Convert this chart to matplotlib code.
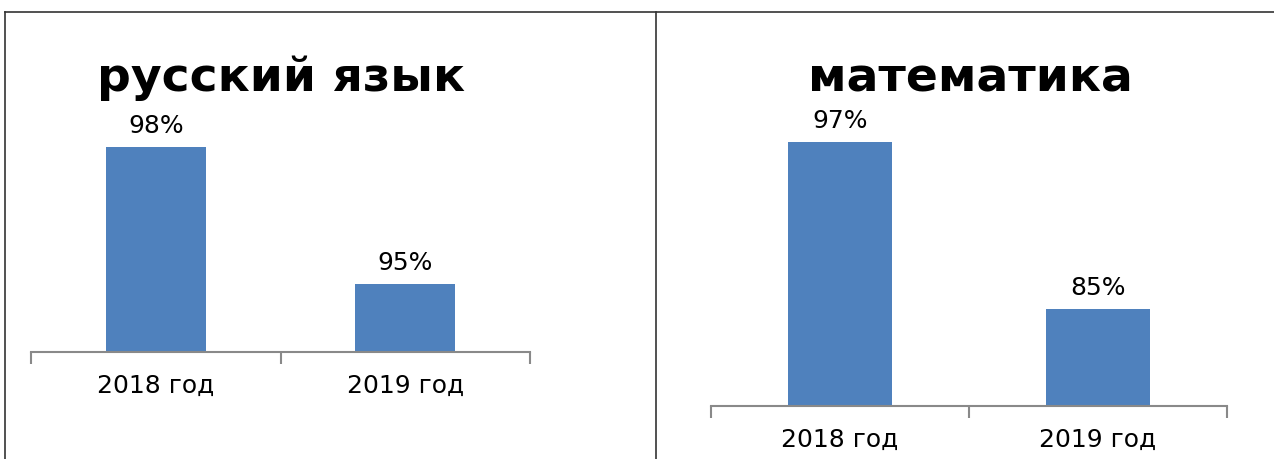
import matplotlib.pyplot as plt
from matplotlib.lines import Line2D

# data
years = ['2018 год', '2019 год']
russian = [98, 95]
maths = [97, 85]
titles = ['русский язык', 'математика']

BAR_COLOR = '#4f81bd'
AXIS_COLOR = '#898989'
W, H = 1274, 459

fig = plt.figure(figsize=(W / 100, H / 100), dpi=100)
plt.rcParams['font.family'] = ['DejaVu Sans']


def px_box(x0, x1, y_top, y_bottom):
    """convert pixel box to figure fraction rect"""
    return [x0 / W, 1 - y_bottom / H, (x1 - x0) / W, (y_bottom - y_top) / H]


def draw_panel(rect, values, ylim, title, title_x):
    ax = fig.add_axes(rect)
    pos = list(range(len(values)))
    bars = ax.bar(pos, values, width=0.4, color=BAR_COLOR)
    ax.set_xlim(-0.5, len(values) - 0.5)
    ax.set_ylim(*ylim)
    for b, v in zip(bars, values):
        ax.annotate(f'{v}%', (b.get_x() + b.get_width() / 2, v),
                    xytext=(0, 6.5), textcoords='offset points',
                    ha='center', va='bottom', fontsize=18)
    for s in ['top', 'right', 'left']:
        ax.spines[s].set_visible(False)
    ax.spines['bottom'].set_color(AXIS_COLOR)
    ax.spines['bottom'].set_linewidth(1.5)
    ax.set_yticks([])
    # ticks at category edges, labels in the middle
    ax.set_xticks([p - 0.5 for p in pos] + [len(values) - 0.5])
    ax.set_xticklabels([])
    ax.tick_params(axis='x', which='major', length=8.5, width=1.5, color=AXIS_COLOR)
    ax.set_xticks(pos, minor=True)
    ax.set_xticklabels(years, minor=True, fontsize=18)
    ax.tick_params(axis='x', which='minor', length=0, pad=16)
    fig.text(title_x / W, 1 - 91 / H, title, ha='center', va='baseline',
             fontsize=34, fontweight='bold')
    return ax


draw_panel(px_box(31, 530, 100, 352), russian, (93.5, 99.03), titles[0], 281)
draw_panel(px_box(711, 1227, 100, 406), maths, (78, 100), titles[1], 970)

# panel borders
border = '#333333'
fig.add_artist(Line2D([5 / W, 5 / W], [0, 1 - 12 / H], color=border, lw=1.2))
fig.add_artist(Line2D([5 / W, 1], [1 - 12 / H, 1 - 12 / H], color=border, lw=1.2))
fig.add_artist(Line2D([656 / W, 656 / W], [0, 1 - 12 / H], color=border, lw=1.2))

fig.savefig('out.png', dpi=100)
